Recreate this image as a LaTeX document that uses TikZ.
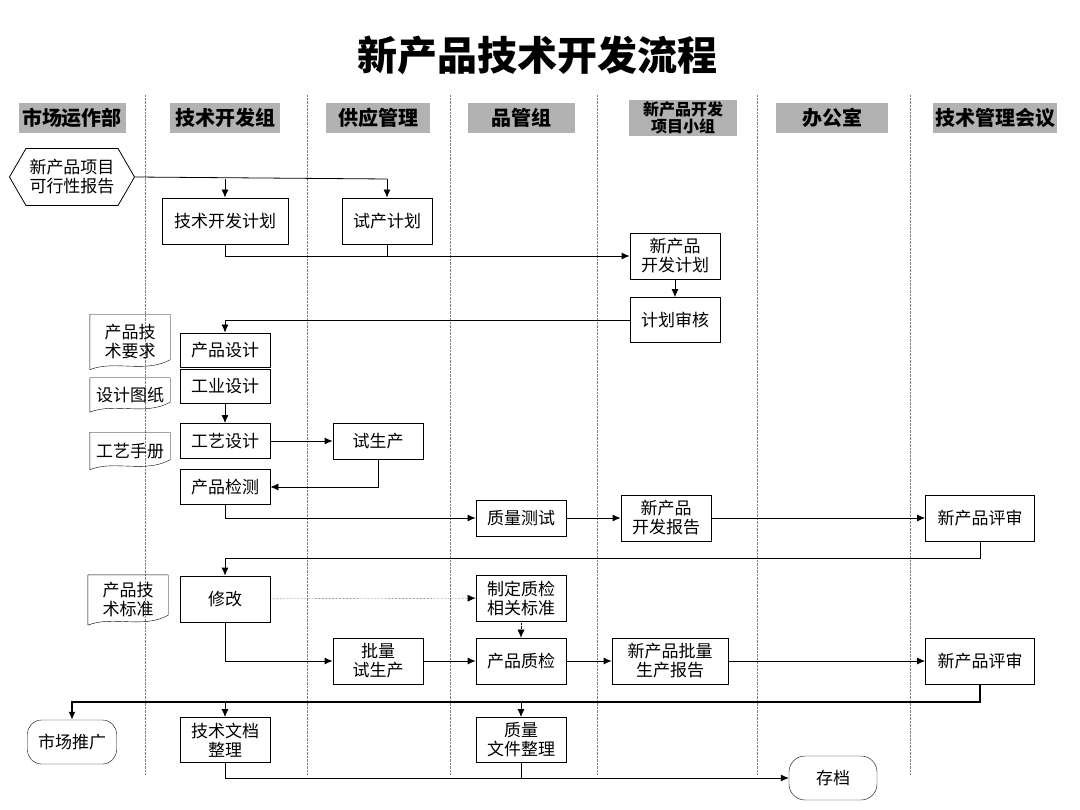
\documentclass[tikz,border=0pt]{standalone}
\usepackage{fontspec}
\setmainfont{Noto Sans CJK SC}
\usetikzlibrary{shapes.symbols,arrows.meta}
\tikzset{
  box/.style={draw,thick,minimum width=90pt,minimum height=36pt,inner sep=1pt,align=center,font=\fontsize{17}{19}\selectfont},
  lane/.style={gray,densely dotted},
  head/.style={fill=gray!60,minimum height=30pt,inner sep=2pt,font=\bfseries\fontsize{20}{20}\selectfont},
  flow/.style={thick,-{Latex[length=8pt,width=7pt]}},
  doc/.style={minimum width=80pt,inner sep=1pt,align=center,font=\fontsize{17}{19}\selectfont}
}
\newcommand{\docshape}[1]{\draw (#1.north west) -- (#1.north east) -- ([yshift=10pt]#1.south east) .. controls ([xshift=-25pt,yshift=-4pt]#1.south east) and ([xshift=25pt,yshift=10pt]#1.south west) .. (#1.south west) -- cycle;}
\begin{document}
\begin{tikzpicture}[x=1pt,y=-1pt]
  \useasboundingbox (0,0) rectangle (1080,810);
  \node[font=\bfseries\fontsize{40}{40}\selectfont] (title) at (537,55) {新产品技术开发流程};
  % lanes
  \foreach \x in {145,307,450,597,757,910}
    \draw[lane] (\x,95) -- (\x,775);
  \node[head,minimum width=107pt] (h1) at (72,118) {市场运作部};
  \node[head,minimum width=110pt] (h2) at (225,118) {技术开发组};
  \node[head,minimum width=104pt] (h3) at (378,118) {供应管理};
  \node[head,minimum width=107pt] (h4) at (521,118) {品管组};
  \node[head,minimum width=108pt,align=center,font=\bfseries\fontsize{16}{17}\selectfont] (h5) at (683,118) {新产品开发\\项目小组};
  \node[head,minimum width=112pt] (h6) at (832,118) {办公室};
  \node[head,minimum width=117pt] (h7) at (995,118) {技术管理会议};
  % nodes
  \node[draw,thick,signal,signal to=west and east,signal pointer angle=120,minimum width=125pt,minimum height=57pt,inner sep=0pt,align=center,font=\fontsize{17}{19}\selectfont] (feas) at (72,177) {新产品项目\\可行性报告};
  \node[box,minimum width=126pt,minimum height=46pt] (plan1) at (225,221) {技术开发计划};
  \node[box,minimum height=46pt] (plan2) at (387,221) {试产计划};
  \node[box,minimum height=46pt] (devplan) at (675,256) {新产品\\开发计划};
  \node[box,minimum height=45pt] (review) at (675,320) {计划审核};
  \node[box,minimum height=34pt] (pd) at (225,350) {产品设计};
  \node[box,minimum height=34pt] (id) at (225,386) {工业设计};
  \node[box,minimum height=35pt] (pe) at (225,441) {工艺设计};
  \node[box] (trial) at (378,441) {试生产};
  \node[box,minimum height=35pt] (test) at (225,487) {产品检测};
  \node[box] (qt) at (521,518) {质量测试};
  \node[box,minimum height=46pt] (rep) at (666,518) {新产品\\开发报告};
  \node[box,minimum width=109pt,minimum height=46pt] (eval1) at (980,518) {新产品评审};
  \node[box,minimum height=46pt] (fix) at (225,599) {修改};
  \node[box,minimum height=46pt] (std) at (521,598) {制定质检\\相关标准};
  \node[box,minimum height=46pt] (batch) at (378,661) {批量\\试生产};
  \node[box,minimum height=46pt] (qc) at (521,661) {产品质检};
  \node[box,minimum width=116pt,minimum height=46pt] (brep) at (670,661) {新产品批量\\生产报告};
  \node[box,minimum width=109pt,minimum height=46pt] (eval2) at (980,661) {新产品评审};
  \node[draw,rounded corners=14pt,minimum width=89pt,minimum height=44pt,font=\fontsize{17}{19}\selectfont] (mkt) at (72,742) {市场推广};
  \node[box,minimum height=45pt] (techdoc) at (225,740) {技术文档\\整理};
  \node[box,minimum height=45pt] (qdoc) at (521,740) {质量\\文件整理};
  \node[draw,rounded corners=16pt,minimum width=88pt,minimum height=44pt,font=\fontsize{17}{19}\selectfont] (arch) at (833,778) {存档};
  % documents
  \node[doc,minimum height=55pt] (req) at (130,342) {产品技\\术要求};
  \node[doc,minimum height=34pt] (dwg) at (130,395) {设计图纸};
  \node[doc,minimum height=37pt] (man) at (130,451) {工艺手册};
  \node[doc,minimum height=50pt] (spec) at (128,600) {产品技\\术标准};
  \docshape{req}
  \docshape{dwg}
  \docshape{man}
  \docshape{spec}
  % connectors
  \draw[thick] (feas.east) -- (387,179);
  \draw[flow] (225,179) -- (plan1.north);
  \draw[flow] (387,179) -- (plan2.north);
  \draw[flow] (plan1.south) |- (devplan.west);
  \draw[thick] (plan2.south) -- (387,256);
  \draw[flow] (devplan) -- (review);
  \draw[flow] (review.west) -| (pd.north);
  \draw[flow] (id) -- (pe);
  \draw[flow] (pe) -- (trial);
  \draw[flow] (trial.south) |- (test.east);
  \draw[flow] (test.south) |- (qt.west);
  \draw[flow] (qt) -- (rep);
  \draw[flow] (rep) -- (eval1);
  \draw[flow] (eval1.south) |- (225,558) -- (fix.north);
  \draw[flow,thin,densely dotted] (fix) -- (std);
  \draw[flow,thin,densely dotted] (std) -- (qc);
  \draw[flow] (fix.south) |- (batch.west);
  \draw[flow] (batch) -- (qc);
  \draw[flow] (qc) -- (brep);
  \draw[flow] (brep) -- (eval2);
  \draw[flow,line width=1.4pt] (eval2.south) |- (72,702) -- (mkt.north);
  \draw[flow] (225,702) -- (techdoc.north);
  \draw[flow] (521,702) -- (qdoc.north);
  \draw[flow] (techdoc.south) |- (arch.west);
  \draw[thick] (qdoc.south) -- (521,778);
\end{tikzpicture}
\end{document}
